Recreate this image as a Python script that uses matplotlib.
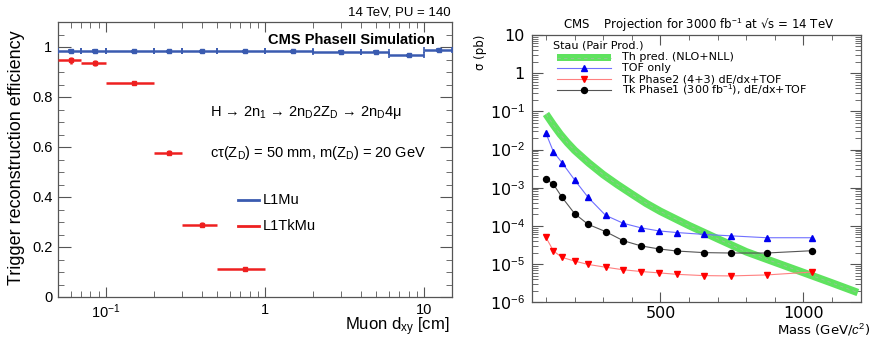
import math
import matplotlib
matplotlib.use("Agg")
import matplotlib.pyplot as plt
from matplotlib.lines import Line2D
from matplotlib.patches import Rectangle
from matplotlib.ticker import FixedLocator, FuncFormatter, LogLocator, NullFormatter, MultipleLocator

plt.rcParams['font.family'] = ['Liberation Sans', 'DejaVu Sans']
plt.rcParams['mathtext.fontset'] = 'custom'
plt.rcParams['mathtext.rm'] = 'Liberation Sans'
plt.rcParams['mathtext.it'] = 'Liberation Sans:italic'
plt.rcParams['mathtext.bf'] = 'Liberation Sans:bold'

# ---------------- data: left panel ----------------
l1mu_lo = [0.05, 0.07, 0.1, 0.2, 0.3, 0.5, 1, 2, 4, 6, 10]
l1mu_hi = [0.07, 0.1, 0.2, 0.3, 0.5, 1, 2, 4, 6, 10, 15]
l1mu_x = [0.06, 0.085, 0.15, 0.25, 0.4, 0.75, 1.5, 3, 5, 8, 12.5]
l1mu_eff = [0.985, 0.984, 0.984, 0.984, 0.984, 0.984, 0.984, 0.982, 0.982, 0.967, 0.988]
l1mu_err = [0.004, 0.004, 0.002, 0.002, 0.002, 0.002, 0.002, 0.002, 0.002, 0.003, 0.004]

tk_lo = [0.05, 0.07, 0.1, 0.2, 0.3, 0.5]
tk_hi = [0.07, 0.1, 0.2, 0.3, 0.5, 1.0]
tk_x = [0.06, 0.085, 0.15, 0.25, 0.4, 0.75]
tk_eff = [0.947, 0.935, 0.858, 0.578, 0.290, 0.111]
tk_err = [0.013, 0.012, 0.007, 0.010, 0.010, 0.005]

# ---------------- data: right panel ----------------
mass = [100, 126, 156, 200, 247, 308, 370, 432, 494, 557, 651, 745, 871, 1029]
tof_only = [2.65e-2, 8.7e-3, 4.5e-3, 1.6e-3, 5.6e-4, 1.9e-4, 1.17e-4, 8.9e-5,
            7.4e-5, 6.7e-5, 6.0e-5, 5.5e-5, 4.9e-5, 4.9e-5]
tk_phase2 = [5.0e-5, 2.2e-5, 1.5e-5, 1.2e-5, 9.8e-6, 8.3e-6, 7.1e-6, 6.4e-6,
             5.9e-6, 5.4e-6, 5.0e-6, 4.9e-6, 5.2e-6, 6.2e-6]
tk_phase1 = [1.66e-3, 1.23e-3, 5.6e-4, 2.1e-4, 1.1e-4, 7.1e-5, 4.1e-5, 3.0e-5,
             2.5e-5, 2.2e-5, 2.0e-5, 1.95e-5, 1.95e-5, 2.24e-5]
th_mass = [100, 125, 150, 175, 200, 250, 300, 350, 400, 450, 500, 600, 700, 800,
           900, 1000, 1100, 1190]
th_xsec = [8.5e-2, 4.5e-2, 2.5e-2, 1.5e-2, 9.5e-3, 4.4e-3, 2.2e-3, 1.2e-3, 6.8e-4,
           3.9e-4, 2.4e-4, 1.02e-4, 4.6e-5, 2.1e-5, 1.12e-5, 6.0e-6, 3.2e-6, 1.8e-6]
sigma_ticks = [1e-6, 1e-5, 1e-4, 1e-3, 1e-2, 1e-1, 1, 10]

W, H = 872, 341
fig = plt.figure(figsize=(W / 100, H / 100), dpi=100)


def fx(px):
    return px / W


def fy(py):
    return 1 - py / H


def axes_px(l, t, r, b):
    return fig.add_axes([fx(l), fy(b), fx(r) - fx(l), fy(t) - fy(b)])


# ================= LEFT PANEL =================
axL = axes_px(58, 22, 452, 297)
blue = '#3a5bb0'
red = '#ee2020'
xe_b = [[c - lo for c, lo in zip(l1mu_x, l1mu_lo)], [hi - c for c, hi in zip(l1mu_x, l1mu_hi)]]
axL.errorbar(l1mu_x, l1mu_eff, xerr=xe_b, yerr=l1mu_err, fmt='s', ms=2.5, color=blue,
             ecolor=blue, elinewidth=1.8, capsize=2, capthick=1.2, zorder=3)
xe_r = [[c - lo for c, lo in zip(tk_x, tk_lo)], [hi - c for c, hi in zip(tk_x, tk_hi)]]
axL.errorbar(tk_x, tk_eff, xerr=xe_r, yerr=tk_err, fmt='s', ms=2.5, color=red,
             ecolor=red, elinewidth=1.8, capsize=0, zorder=3)
axL.set_xscale('log')
axL.set_xlim(0.05, 15)
axL.set_ylim(0, 1.1)
axL.yaxis.set_major_locator(FixedLocator([0, 0.2, 0.4, 0.6, 0.8, 1.0]))
axL.yaxis.set_minor_locator(MultipleLocator(0.05))
axL.xaxis.set_major_locator(FixedLocator([0.1, 1, 10]))
axL.xaxis.set_major_formatter(FuncFormatter(
    lambda v, p: {0.1: r'10$^{-1}$', 1: '1', 10: '10'}.get(round(v, 3), '')))
axL.xaxis.set_minor_locator(LogLocator(base=10, subs=range(2, 10)))
axL.xaxis.set_minor_formatter(NullFormatter())
axL.yaxis.set_major_formatter(FuncFormatter(
    lambda v, p: '0' if v == 0 else ('1' if abs(v - 1) < 1e-9 else f'{v:.1f}')))
axL.tick_params(which='both', direction='in', top=True, right=True, labelsize=10.5,
                color='#555555')
axL.tick_params(axis='y', which='major', length=9, pad=4)
axL.tick_params(axis='y', which='minor', length=4.5)
axL.tick_params(axis='x', which='major', length=7, pad=4)
axL.tick_params(axis='x', which='minor', length=4)
for s in axL.spines.values():
    s.set_color('#555555')
    s.set_linewidth(0.9)

fig.text(fx(17), fy(158), 'Trigger reconstruction efficiency', rotation=90,
         ha='center', va='center', fontsize=13)
fig.text(fx(449), fy(327), r'Muon d$_{\mathrm{xy}}$ [cm]', ha='right', va='center', fontsize=12)
fig.text(fx(451), fy(12.5), '14 TeV, PU = 140', ha='right', va='center', fontsize=9.5)
fig.text(fx(435), fy(40), 'CMS PhaseII Simulation', ha='right', va='center',
         fontsize=10.5, fontweight='bold')
fig.text(fx(210), fy(113),
         r'H → 2n$_{\mathrm{1}}$ → 2n$_{\mathrm{D}}$2Z$_{\mathrm{D}}$ → 2n$_{\mathrm{D}}$4μ',
         ha='left', va='center', fontsize=10.5)
fig.text(fx(210), fy(152.5), r'cτ(Z$_{\mathrm{D}}$) = 50 mm, m(Z$_{\mathrm{D}}$) = 20 GeV',
         ha='left', va='center', fontsize=10.5)
# left legend
for yy, col, lab in [(200, blue, 'L1Mu'), (226, red, 'L1TkMu')]:
    fig.add_artist(Line2D([fx(238), fx(259)], [fy(yy), fy(yy)], color=col, lw=2))
    fig.text(fx(263), fy(yy), lab, ha='left', va='center', fontsize=10.5)

# ================= RIGHT PANEL =================
axR = axes_px(531.7, 34.9, 860.7, 302.3)
green = '#5fe35f'
axR.plot(th_mass, th_xsec, color=green, lw=5.4, solid_capstyle='butt',
         solid_joinstyle='round', zorder=2)
axR.plot(th_mass, th_xsec, color='#9abf9a', lw=0.6, ls=(0, (4, 4)), zorder=2.1)
axR.plot(mass, tof_only, color='#7070ff', lw=0.8, marker='^', ms=4.3, mfc='#0000ee',
         mec='#0000ee', zorder=3)
axR.plot(mass, tk_phase2, color='#ff8080', lw=0.8, marker='v', ms=4.3, mfc='#ff0000',
         mec='#ff0000', zorder=3)
axR.plot(mass, tk_phase1, color='#555555', lw=0.8, marker='o', ms=4.3, mfc='black',
         mec='black', zorder=3)
axR.set_yscale('log')
axR.set_xlim(50, 1200)
axR.set_ylim(1e-6, 10)
axR.xaxis.set_major_locator(FixedLocator([500, 1000]))
axR.xaxis.set_minor_locator(MultipleLocator(100))
axR.yaxis.set_major_locator(FixedLocator(sigma_ticks))
axR.yaxis.set_minor_locator(FixedLocator(
    [m * t for t in sigma_ticks[:-1] for m in range(2, 10)]))
axR.yaxis.set_minor_formatter(NullFormatter())


def yfmt(v, p):
    e = int(round(math.log10(v)))
    if e == 1:
        return '10'
    if e == 0:
        return '1'
    return '10$^{%d}$' % e


axR.yaxis.set_major_formatter(FuncFormatter(yfmt))
axR.tick_params(which='both', direction='in', top=True, right=True, color='#555555')
axR.tick_params(axis='y', which='major', length=8, pad=5)
axR.tick_params(axis='y', which='minor', length=4)
axR.tick_params(axis='x', which='major', length=7, pad=2.5)
axR.tick_params(axis='x', which='minor', length=3.5)
for lab in axR.get_xticklabels() + axR.get_yticklabels():
    lab.set_family(['DejaVu Sans'])
    lab.set_fontsize(11.5)
for s in axR.spines.values():
    s.set_color('#555555')
    s.set_linewidth(0.9)

fig.text(fx(699), fy(25), r'CMS    Projection for 3000 fb$^{-1}$ at √s = 14 TeV', ha='center',
         va='center', fontsize=8.5, family=['DejaVu Sans'])
fig.text(fx(480), fy(35), 'σ (pb)', rotation=90, ha='center', va='top', fontsize=8.5,
         family=['DejaVu Sans'])
fig.text(fx(870), fy(330), r'Mass (GeV/$c^{2}$)', ha='right', va='center', fontsize=9.5,
         family=['DejaVu Sans'])

# right legend
fig.text(fx(553), fy(45), 'Stau (Pair Prod.)', ha='left', va='center', fontsize=8,
         family=['DejaVu Sans'])
fig.add_artist(Rectangle((fx(557), fy(61)), fx(611) - fx(557), fy(54) - fy(61),
                         color=green, lw=0, transform=fig.transFigure))
fig.add_artist(Line2D([fx(557), fx(611)], [fy(57.5), fy(57.5)], color='#9abf9a', lw=0.6,
                      ls=(0, (4, 4))))
leg_rows = [
    (57.5, None, None, None, 'Th pred. (NLO+NLL)'),
    (68.3, '#7070ff', '^', '#0000ee', 'TOF only'),
    (79, '#ff8080', 'v', '#ff0000', 'Tk Phase2 (4+3) dE/dx+TOF'),
    (90, '#555555', 'o', 'black', r'Tk Phase1 (300 fb$^{-1}$), dE/dx+TOF'),
]
for yy, lc, mk, mc, lab in leg_rows:
    if lc is not None:
        fig.add_artist(Line2D([fx(557), fx(611)], [fy(yy), fy(yy)], color=lc, lw=0.8))
        fig.add_artist(Line2D([fx(584)], [fy(yy)], marker=mk, ms=4.3, mfc=mc, mec=mc, lw=0))
    fig.text(fx(622), fy(yy), lab, ha='left', va='center', fontsize=8,
             family=['DejaVu Sans'])

fig.savefig('out.png', dpi=100)
